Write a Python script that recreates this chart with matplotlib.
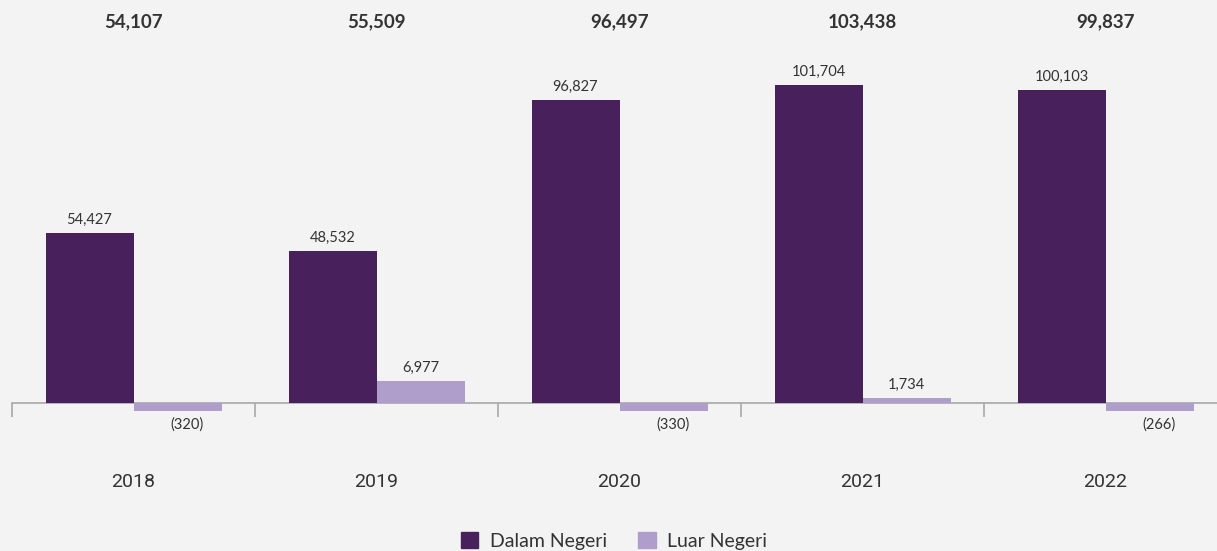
import numpy as np
import matplotlib
matplotlib.use("Agg")
import matplotlib.pyplot as plt
from matplotlib.patches import Rectangle
from matplotlib import font_manager

years = ["2018", "2019", "2020", "2021", "2022"]
dalam = [54427, 48532, 96827, 101704, 100103]
luar = [-320, 6977, -330, 1734, -266]
totals = [54107, 55509, 96497, 103438, 99837]

DARK = "#48215c"
LIGHT = "#af9ecb"
BG = "#f3f3f3"
TXT = "#333333"

names = {f.name for f in font_manager.fontManager.ttflist}
year_font = "Liberation Sans Narrow" if "Liberation Sans Narrow" in names else "Roboto"
year_size = 15.5 if year_font == "Liberation Sans Narrow" else 14

W, H = 1217, 551
fig = plt.figure(figsize=(W / 100, H / 100), dpi=100, facecolor=BG)
ax = fig.add_axes([12 / W, 0, 1215 / W, 1])
ax.set_facecolor(BG)
upp = 319.5  # data units per pixel
base_px = 403
ax.set_ylim(-(H - base_px) * upp, base_px * upp)
ax.set_xlim(-0.5, 4.5)

x = np.arange(len(years))
bw = 88 / 243
# minimum visible height for very small bars (display only)
min_h = 8 * upp
luar_disp = [v if abs(v) >= 1000 else np.sign(v) * min_h for v in luar]

ax.bar(x - bw / 2, dalam, width=bw, color=DARK, zorder=3)
ax.bar(x + bw / 2, luar_disp, width=bw, color=LIGHT, zorder=3)

font = "Lato"
for i, v in enumerate(dalam):
    ax.text(x[i] - bw / 2, v + 6 * upp, f"{v:,}", ha="center", va="bottom",
            fontsize=10.5, color=TXT, family=font)
for i, v in enumerate(luar):
    if v >= 0:
        ax.text(x[i] + bw / 2, v + 6 * upp, f"{v:,}", ha="center", va="bottom",
                fontsize=10.5, color=TXT, family=font)
    else:
        ax.text(x[i] + bw / 2 + 0.04, -22 * upp, f"({abs(v):,})", ha="center",
                va="center", fontsize=10.5, color=TXT, family=font)

for i, t in enumerate(totals):
    ax.text(x[i], (base_px - 22) * upp, f"{t:,}", ha="center", va="center",
            fontsize=13.5, fontweight="bold", color=TXT, family=font)
for i, y in enumerate(years):
    ax.text(x[i], -(482 - base_px) * upp, y, ha="center", va="center",
            fontsize=year_size, color=TXT, family=year_font)

for s in ["top", "right", "left"]:
    ax.spines[s].set_visible(False)
ax.spines["bottom"].set_position(("data", 0))
ax.spines["bottom"].set_color("#a8a8a8")
ax.spines["bottom"].set_linewidth(1.2)
ax.spines["bottom"].set_zorder(2)
ax.set_yticks([])
ax.set_xticks(np.arange(-0.5, 5, 1))
ax.tick_params(axis="x", direction="out", length=10, width=1.2, color="#a8a8a8",
               labelbottom=False)

handles = [Rectangle((0, 0), 1, 1, color=DARK), Rectangle((0, 0), 1, 1, color=LIGHT)]
leg = fig.legend(handles, ["Dalam Negeri", "Luar Negeri"], loc="center",
                 bbox_to_anchor=(614 / W, 1 - 541 / H), ncol=2, frameon=False,
                 handlelength=0.9, handleheight=0.9, handletextpad=0.6,
                 columnspacing=1.6, prop={"family": font, "size": 14})
for t in leg.get_texts():
    t.set_color(TXT)

fig.savefig("out.png", dpi=100, facecolor=BG)
